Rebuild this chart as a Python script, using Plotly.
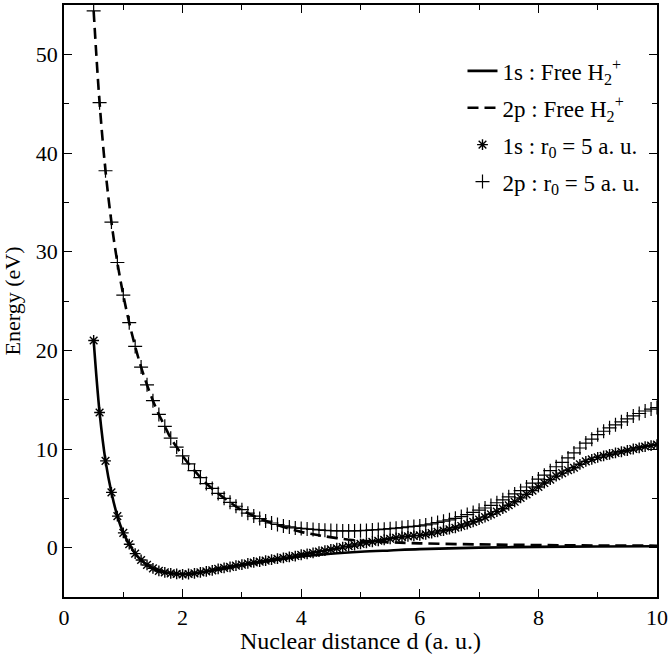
import plotly.graph_objects as go

# Confined (r0 = 5 a.u.) data, grid of nuclear distances
d_conf = [0.5, 0.6, 0.7, 0.8, 0.9, 1.0, 1.1, 1.2, 1.3, 1.4, 1.5, 1.6, 1.7, 1.8, 1.9,
          2.0, 2.1, 2.2, 2.3, 2.4, 2.5, 2.6, 2.7, 2.8, 2.9, 3.0, 3.1, 3.2, 3.3, 3.4,
          3.5, 3.6, 3.7, 3.8, 3.9, 4.0, 4.1, 4.2, 4.3, 4.4, 4.5, 4.6, 4.7, 4.8, 4.9,
          5.0, 5.1, 5.2, 5.3, 5.4, 5.5, 5.6, 5.7, 5.8, 5.9, 6.0, 6.1, 6.2, 6.3, 6.4,
          6.5, 6.6, 6.7, 6.8, 6.9, 7.0, 7.1, 7.2, 7.3, 7.4, 7.5, 7.6, 7.7, 7.8, 7.9,
          8.0, 8.1, 8.2, 8.3, 8.4, 8.5, 8.6, 8.7, 8.8, 8.9, 9.0, 9.1, 9.2, 9.3, 9.4,
          9.5, 9.6, 9.7, 9.8, 9.9, 10.0]

e1s_conf = [21.0, 13.7, 8.8, 5.6, 3.2, 1.5, 0.35, -0.6, -1.25, -1.75, -2.1, -2.35, -2.5, -2.6, -2.65,
            -2.7, -2.67, -2.6, -2.5, -2.4, -2.3, -2.15, -2.05, -1.95, -1.82, -1.72, -1.6, -1.5, -1.42, -1.32,
            -1.22, -1.12, -1.04, -0.94, -0.85, -0.72, -0.62, -0.52, -0.4, -0.3, -0.18, -0.06, 0.05, 0.15, 0.27,
            0.38, 0.5, 0.6, 0.7, 0.8, 0.9, 1.0, 1.08, 1.15, 1.2, 1.25, 1.35, 1.48, 1.6, 1.73,
            1.87, 2.02, 2.2, 2.4, 2.62, 2.85, 3.1, 3.38, 3.65, 3.95, 4.3, 4.65, 5.05, 5.4, 5.78,
            6.15, 6.55, 6.9, 7.25, 7.55, 7.85, 8.1, 8.45, 8.75, 8.95, 9.15, 9.3, 9.45, 9.6, 9.72,
            9.85, 10.0, 10.12, 10.25, 10.35, 10.45]

e2p_conf = [54.4, 45.1, 38.2, 33.0, 28.9, 25.6, 22.8, 20.4, 18.3, 16.5, 14.9, 13.5, 12.3, 11.1, 10.2,
            9.3, 8.5, 7.8, 7.1, 6.5, 6.0, 5.5, 5.0, 4.6, 4.2, 3.85, 3.5, 3.2, 2.95, 2.7,
            2.5, 2.35, 2.2, 2.1, 2.0, 1.95, 1.9, 1.85, 1.8, 1.76, 1.73, 1.71, 1.7, 1.7, 1.7,
            1.72, 1.75, 1.8, 1.83, 1.87, 1.92, 1.98, 2.04, 2.1, 2.15, 2.2, 2.3, 2.42, 2.55, 2.68,
            2.82, 2.97, 3.15, 3.35, 3.57, 3.8, 4.02, 4.28, 4.55, 4.85, 5.15, 5.45, 5.78, 6.15, 6.55,
            6.95, 7.35, 7.8, 8.2, 8.65, 9.1, 9.6, 10.1, 10.6, 11.0, 11.45, 11.8, 12.15, 12.45, 12.75,
            13.05, 13.35, 13.6, 13.85, 14.05, 14.2]

# Free H2+ curves
d_free_1s = [0.5, 0.6, 0.7, 0.8, 0.9, 1.0, 1.1, 1.2, 1.3, 1.4, 1.5, 1.6, 1.8, 2.0, 2.2, 2.5,
             3.0, 3.5, 4.0, 4.5, 5.0, 5.5, 6.0, 7.0, 8.0, 9.0, 10.0]
e1s_free = [21.0, 13.7, 8.8, 5.6, 3.2, 1.5, 0.35, -0.6, -1.25, -1.75, -2.1, -2.35, -2.6, -2.7, -2.6, -2.3,
            -1.75, -1.3, -0.9, -0.62, -0.42, -0.28, -0.15, 0.0, 0.08, 0.12, 0.15]

d_free_2p = [0.5, 0.6, 0.7, 0.8, 0.9, 1.0, 1.1, 1.2, 1.3, 1.4, 1.5, 1.6, 1.7, 1.8, 1.9,
             2.0, 2.2, 2.4, 2.6, 2.8, 3.0, 3.3, 3.6, 4.0, 4.3, 4.6, 5.0, 5.5, 6.0, 7.0, 8.0, 9.0, 10.0]
e2p_free = [54.4, 45.1, 38.2, 33.0, 28.9, 25.6, 22.8, 20.4, 18.3, 16.5, 14.9, 13.5, 12.3, 11.1, 10.2,
            9.3, 7.8, 6.5, 5.5, 4.6, 3.8, 2.95, 2.3, 1.6, 1.25, 0.97, 0.7, 0.55, 0.44, 0.33, 0.27, 0.22, 0.2]

x_ticks = [0, 2, 4, 6, 8, 10]
y_ticks = [0, 10, 20, 30, 40, 50]

FONT = "Liberation Serif"

fig = go.Figure()
fig.add_trace(go.Scatter(x=d_free_1s, y=e1s_free, mode="lines", line=dict(color="black", width=2.6, shape="spline"),
                         name="1s : Free H<sub>2</sub><sup>+</sup>", legendgroup="a"))
fig.add_trace(go.Scatter(x=d_free_2p, y=e2p_free, mode="lines",
                         line=dict(color="black", width=2.6, dash="11px,6px", shape="spline"),
                         name="2p : Free H<sub>2</sub><sup>+</sup>", legendgroup="b"))
fig.add_trace(go.Scatter(x=d_conf, y=e1s_conf, mode="markers",
                         marker=dict(symbol="asterisk-open", size=9, color="black", line=dict(width=1.4, color="black")),
                         name="1s : r<sub>0</sub> = 5 a. u.", legendgroup="c"))
fig.add_trace(go.Scatter(x=d_conf, y=e2p_conf, mode="markers",
                         marker=dict(symbol="cross-thin-open", size=10, color="black", line=dict(width=1.2, color="black")),
                         name="2p : r<sub>0</sub> = 5 a. u.", legendgroup="d"))

axis_common = dict(showline=True, linecolor="black", linewidth=1.5, mirror="ticks", ticks="inside",
                   ticklen=8, tickwidth=1.2, tickcolor="black", showgrid=False, zeroline=False,
                   tickfont=dict(family=FONT, size=22, color="black"))

fig.update_xaxes(range=[0, 10], tickvals=x_ticks, ticktext=[str(v) for v in x_ticks],
                 title=dict(text="Nuclear distance d (a. u.)", font=dict(family=FONT, size=24, color="black"), standoff=0),
                 minor=dict(dtick=1, ticks="inside", ticklen=5, tickcolor="black", tickwidth=1.2),
                 **axis_common)
fig.update_yaxes(range=[-5, 55], tickvals=y_ticks, ticktext=[str(v) for v in y_ticks],
                 title=dict(text="Energy (eV)", font=dict(family=FONT, size=22, color="black"), standoff=10),
                 minor=dict(tick0=-5, dtick=5, ticks="inside", ticklen=5, tickcolor="black", tickwidth=1.2),
                 **axis_common)

fig.update_layout(width=672, height=654, margin=dict(l=64, r=15, t=3, b=57),
                  plot_bgcolor="white", paper_bgcolor="white",
                  font=dict(family=FONT, size=23, color="black"),
                  legend=dict(x=0.672, y=0.925, xanchor="left", yanchor="top", bgcolor="rgba(0,0,0,0)",
                              font=dict(family=FONT, size=23, color="black"), tracegroupgap=4,
                              traceorder="grouped"),
                  showlegend=True)

fig.write_html("out.html", config={"displayModeBar": False},
               post_script="document.body.style.margin='0';document.body.style.overflow='hidden';")
